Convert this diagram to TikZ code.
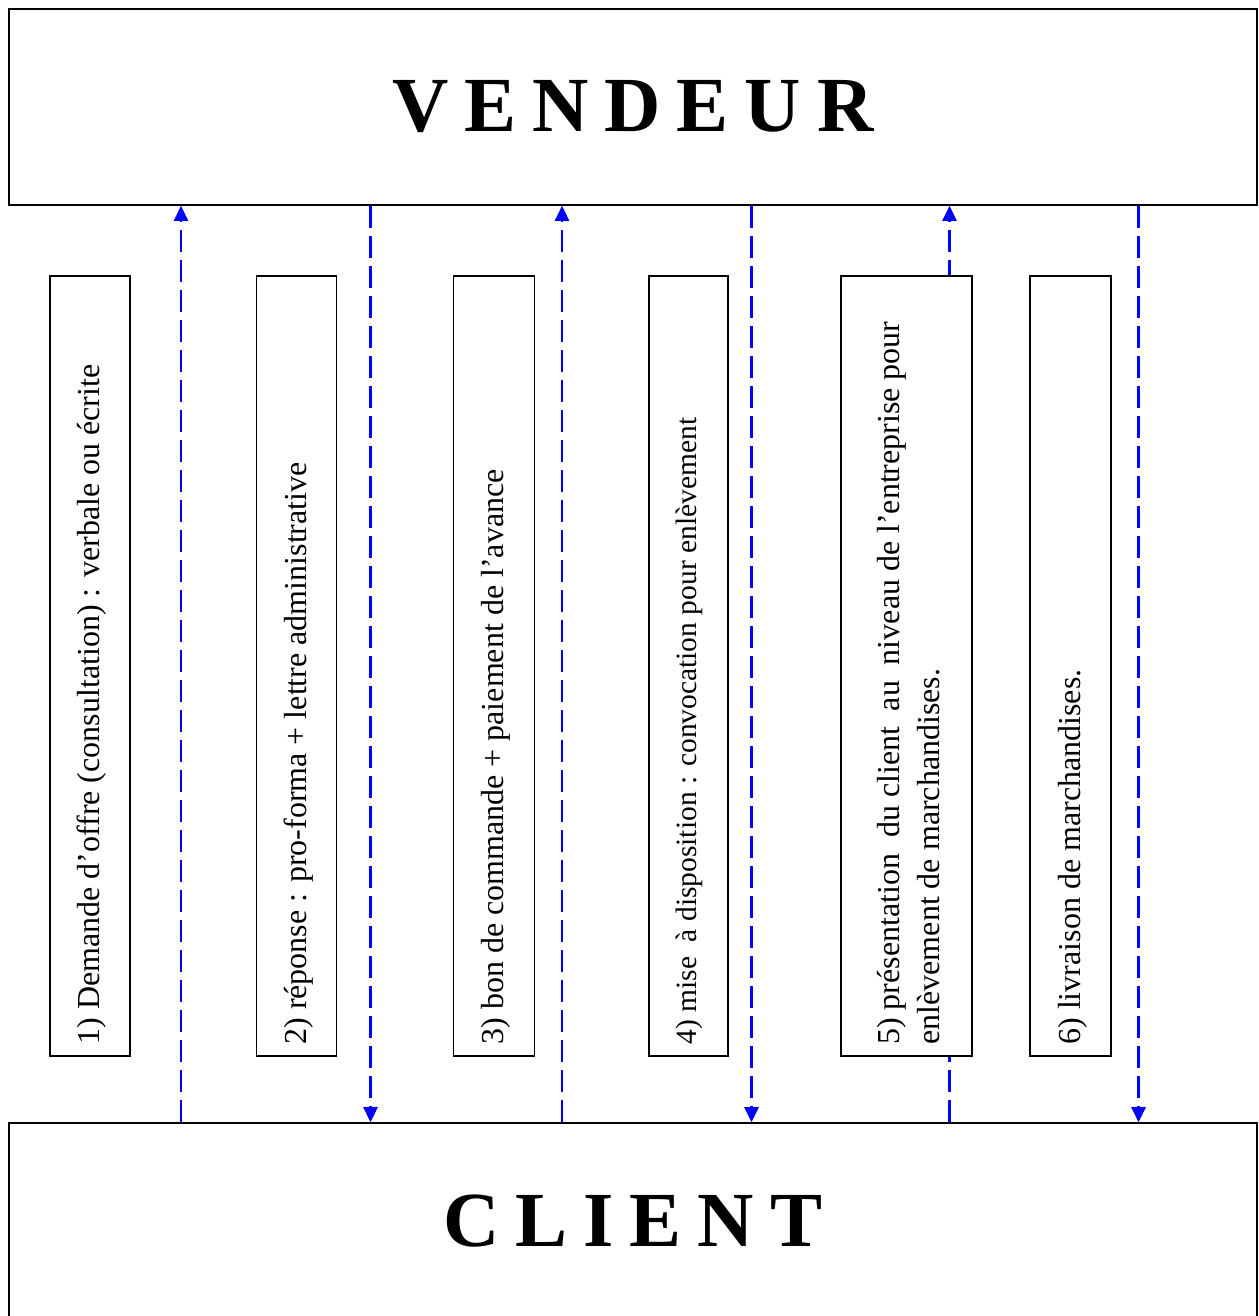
\documentclass[tikz,border=0pt]{standalone}
\usepackage{fontspec}
\setmainfont{Liberation Serif}
\usetikzlibrary{arrows.meta}

\begin{document}
\begin{tikzpicture}[x=1pt,y=-1pt,
        partie/.style={draw,line width=1.6pt,minimum width=1247.7pt,minimum height=196pt,inner sep=0pt,
                font=\fontsize{78}{78}\selectfont\bfseries},
        etape/.style={draw,fill=white,line width=1.5pt,minimum height=780pt,inner sep=0pt},
        libelle/.style={rotate=90,anchor=west,inner sep=0pt,text width=723pt,align=justify,
                font=\fontsize{32}{40}\selectfont},
        flux/.style={blue,line width=2.6pt,dash pattern=on 22pt off 8pt,-{Triangle[length=15pt,width=14pt]}}]
                \useasboundingbox (0,0) rectangle (1258,1316);
                \node[partie] (vendeur) at (632.85,107) {\spaceskip=16pt V E N D E U R};
                \node[partie] (client) at (632.85,1221) {\spaceskip=16pt C L I E N T};

                \coordinate (f1) at (181,0);
                \coordinate (f2) at (370.5,0);
                \coordinate (f3) at (562,0);
                \coordinate (f4) at (751.5,0);
                \coordinate (f5) at (949.5,0);
                \coordinate (f6) at (1138.5,0);
                \draw[flux] (client.north -| f1) -- (vendeur.south -| f1);
                \draw[flux] (vendeur.south -| f2) -- (client.north -| f2);
                \draw[flux] (client.north -| f3) -- (vendeur.south -| f3);
                \draw[flux] (vendeur.south -| f4) -- (client.north -| f4);
                \draw[flux] (client.north -| f5) -- (vendeur.south -| f5);
                \draw[flux] (vendeur.south -| f6) -- (client.north -| f6);

                \node[etape,minimum width=80pt] (etape1) at (90,666) {};
                \node[etape,minimum width=80pt] (etape2) at (296.7,666) {};
                \node[etape,minimum width=81pt] (etape3) at (494,666) {};
                \node[etape,minimum width=79pt] (etape4) at (688.5,666) {};
                \node[etape,minimum width=131pt] (etape5) at (906.5,666) {};
                \node[etape,minimum width=81pt] (etape6) at (1070.5,666) {};

                \node[libelle] (texte1) at ([xshift=2pt,yshift=12pt]etape1.south) {1) Demande d’offre (consultation) : verbale ou écrite};
                \node[libelle] (texte2) at ([xshift=2pt,yshift=12pt]etape2.south) {2) réponse : pro-forma + lettre administrative};
                \node[libelle] (texte3) at ([xshift=2pt,yshift=12pt]etape3.south) {3) bon de commande + paiement de l’avance};
                \node[libelle,font=\fontsize{29.5}{37}\selectfont] (texte4) at ([xshift=1pt,yshift=12pt]etape4.south) {4) mise \ à disposition : convocation pour enlèvement};
                \node[libelle] (texte5) at ([xshift=2pt,yshift=12pt]etape5.south) {5) présentation \ du client \ au \ niveau de l’entreprise pour enlèvement de marchandises.};
                \node[libelle] (texte6) at ([xshift=2pt,yshift=12pt]etape6.south) {6) livraison de marchandises.};
\end{tikzpicture}
\end{document}
